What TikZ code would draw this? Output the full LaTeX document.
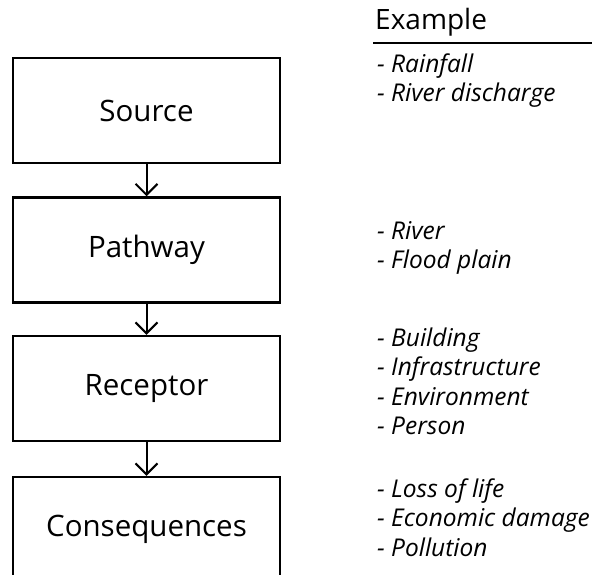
\documentclass[tikz,border=0pt]{standalone}
\usepackage{fontspec}
\setmainfont{Open Sans}
\usetikzlibrary{arrows.meta,positioning}

\begin{document}
\begin{tikzpicture}[x=1pt, y=-1pt,
  stage/.style={rectangle, draw, line width=2.5pt, minimum width=267pt,
                minimum height=105pt, font=\fontsize{29.5}{36}\selectfont},
  items/.style={anchor=west, align=left, inner sep=0pt,
                font=\fontsize{24.5}{29.5}\selectfont\itshape},
  head/.style={anchor=west, inner sep=0pt, font=\fontsize{28}{32}\selectfont},
  arr/.style={-{Straight Barb[length=11pt, width=22pt]}, line width=2pt}
]
\useasboundingbox (0,0) rectangle (594,575);

\node[stage] (source)  at (146.5,110.5) {Source};
\node[stage] (pathway) at (146.5,250)   {Pathway};
\node[stage] (recept)  at (146.5,388.5) {Receptor};
\node[stage] (conseq)  at (146.5,529.5) {Consequences};

\node[head] (example) at (375,22) {Example};
\draw[line width=1.5pt] (373,43) -- (592,43);

\node[items] (ex1) at (377,80.5)  {- Rainfall\\- River discharge};
\node[items] (ex2) at (377,248)   {- River\\- Flood plain};
\node[items] (ex3) at (377,381.5) {- Building\\- Infrastructure\\- Environment\\- Person};
\node[items] (ex4) at (377,517.5) {- Loss of life\\- Economic damage\\- Pollution};

\draw[arr] (source)  -- (pathway);
\draw[arr] (pathway) -- (recept);
\draw[arr] (recept)  -- (conseq);

\end{tikzpicture}
\end{document}
